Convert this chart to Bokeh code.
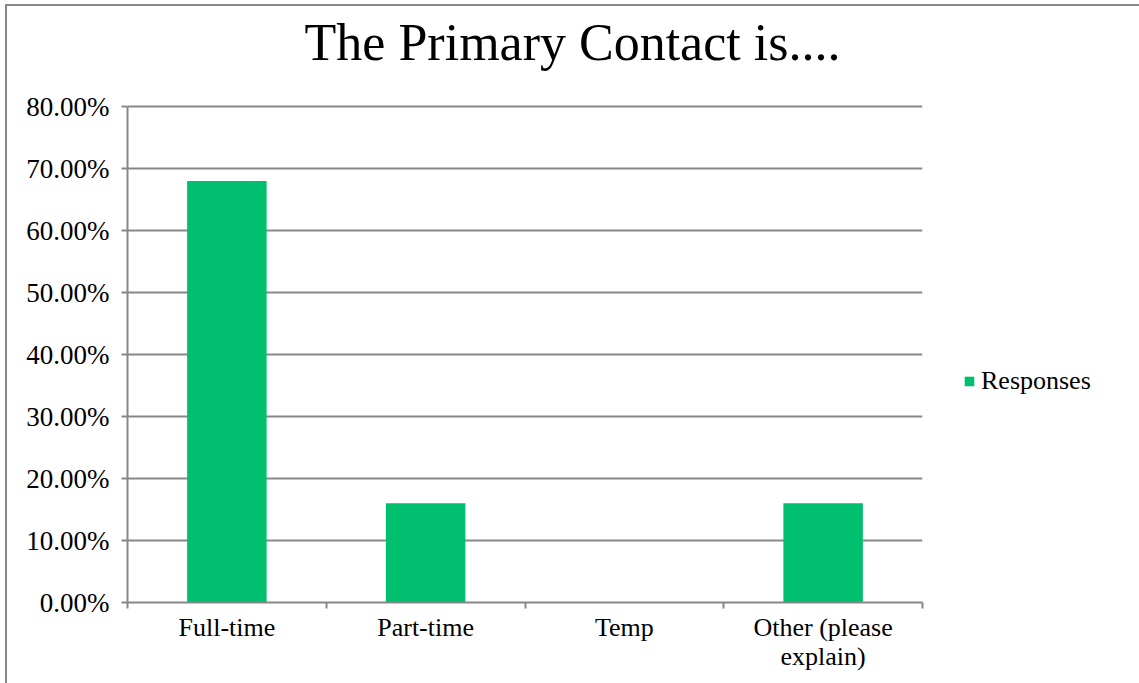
from bokeh.plotting import figure
from bokeh.models import (Range1d, FixedTicker, NumeralTickFormatter, LinearAxis, Grid,
                          Legend, LegendItem, ColumnDataSource, Label)
from bokeh.embed import file_html
from bokeh.resources import INLINE

categories = ["Full-time", "Part-time", "Temp", "Other (please\nexplain)"]
responses = [0.68, 0.16, 0.0, 0.16]
y_ticks = [0.0, 0.1, 0.2, 0.3, 0.4, 0.5, 0.6, 0.7, 0.8]
title_text = "The Primary Contact is...."

GREEN = "#00BF6F"
GRAY = "#878787"
FONT = "Liberation Serif"

Y_MAX = 0.8
PLOT_H = 496          # pixel height of the 0..80% region
TOP_PAD = 96          # extra pixels above 80% (title area)
FRAME_H = PLOT_H + TOP_PAD
PX_PER_UNIT = PLOT_H / Y_MAX

centers = [i + 0.5 for i in range(len(categories))]
source = ColumnDataSource(dict(x=centers, top=responses))

p = figure(frame_width=795, frame_height=FRAME_H, output_backend="svg", toolbar_location=None,
           x_range=Range1d(0, len(categories)),
           y_range=Range1d(0, Y_MAX + TOP_PAD / PX_PER_UNIT),
           x_axis_type=None, y_axis_type=None,
           min_border_left=120, min_border_right=217, min_border_top=4, min_border_bottom=81)
p.outline_line_color = None
p.styles = {"border-left": f"2px solid {GRAY}", "border-top": f"2px solid {GRAY}",
            "margin-left": "5px", "margin-top": "4px"}

# grid
ygrid = Grid(dimension=1, ticker=FixedTicker(ticks=y_ticks),
             grid_line_color=GRAY, grid_line_width=2)
p.add_layout(ygrid)

r = p.vbar(x="x", top="top", width=0.4, source=source, fill_color=GREEN, line_color=None)

# y axis
yaxis = LinearAxis(ticker=FixedTicker(ticks=y_ticks),
                   formatter=NumeralTickFormatter(format="0.00%"), bounds=(0, Y_MAX))
yaxis.axis_line_color = GRAY
yaxis.axis_line_width = 2
yaxis.major_tick_line_color = GRAY
yaxis.major_tick_line_width = 2
yaxis.major_tick_in = 0
yaxis.major_tick_out = 6
yaxis.minor_tick_line_color = None
yaxis.major_label_text_font = FONT
yaxis.major_label_text_font_size = "27px"
yaxis.major_label_text_color = "black"
yaxis.major_label_standoff = 12
p.add_layout(yaxis, "left")

# x axis: labels at category centres, ticks at category boundaries
xaxis = LinearAxis(ticker=FixedTicker(ticks=centers,
                                      minor_ticks=list(range(len(categories) + 1))))
xaxis.major_label_overrides = {c: lab for c, lab in zip(centers, categories)}
xaxis.axis_line_color = GRAY
xaxis.axis_line_width = 2
xaxis.major_tick_line_color = None
xaxis.major_tick_in = 0
xaxis.major_tick_out = 6
xaxis.minor_tick_line_color = GRAY
xaxis.minor_tick_line_width = 2
xaxis.minor_tick_in = 0
xaxis.minor_tick_out = 6
xaxis.major_label_text_font = FONT
xaxis.major_label_text_font_size = "26px"
xaxis.major_label_text_color = "black"
xaxis.major_label_text_line_height = 1.0
xaxis.major_label_standoff = 4
p.add_layout(xaxis, "below")

# title, drawn inside the (enlarged) frame above the 80% line
title = Label(x=len(categories) / 2, y=Y_MAX, x_offset=47.5, y_offset=64,
              text=title_text, text_font=FONT, text_font_size="52px", text_color="black",
              text_align="center", text_baseline="alphabetic")
p.add_layout(title)

# legend
legend = Legend(items=[LegendItem(label="Responses", renderers=[r])],
                location=(41, 206), glyph_width=12, glyph_height=12,
                label_text_font=FONT, label_text_font_size="26px",
                label_text_color="black",
                label_standoff=6, padding=0, margin=0, spacing=0,
                border_line_color=None, background_fill_alpha=0)
p.add_layout(legend, "right")

open("out.html", "w").write(file_html(p, INLINE))
